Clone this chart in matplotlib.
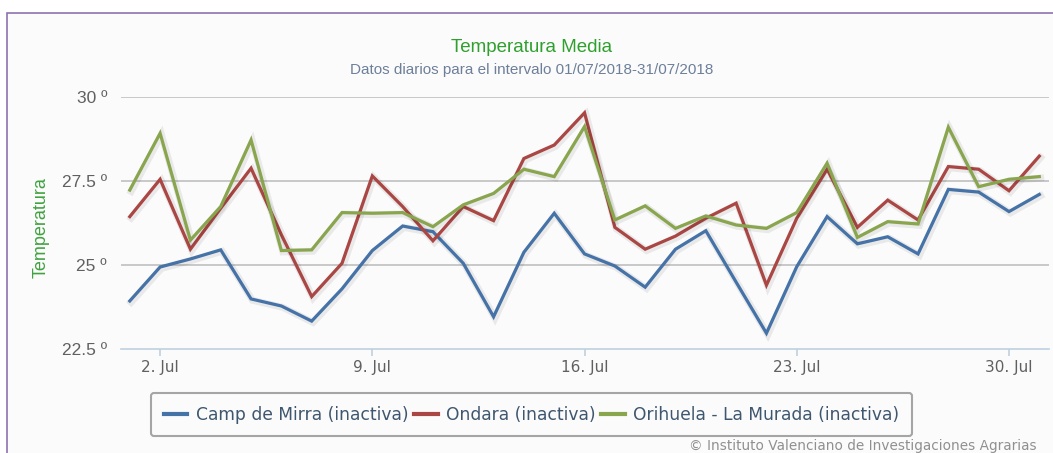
import matplotlib
matplotlib.use("Agg")
import matplotlib.pyplot as plt
import matplotlib.patheffects as pe
from matplotlib.patches import Rectangle

# daily mean temperature, July 2018
days = list(range(1, 32))
camp_de_mirra = [23.93, 24.94, 25.18, 25.45, 23.99, 23.78, 23.33, 24.29, 25.43, 26.16,
                 25.99, 25.05, 23.46, 25.38, 26.54, 25.33, 24.97, 24.34, 25.47, 26.02,
                 24.49, 22.97, 24.95, 26.44, 25.63, 25.84, 25.33, 27.25, 27.17, 26.59,
                 27.10]
ondara = [26.44, 27.55, 25.47, 26.69, 27.88, 25.90, 24.06, 25.05, 27.65, 26.74,
          25.72, 26.74, 26.32, 28.17, 28.57, 29.53, 26.12, 25.47, 25.86, 26.39,
          26.84, 24.40, 26.39, 27.85, 26.12, 26.93, 26.34, 27.93, 27.85, 27.21,
          28.24]
orihuela = [27.23, 28.92, 25.74, 26.74, 28.72, 25.43, 25.45, 26.56, 26.54, 26.56,
            26.14, 26.79, 27.13, 27.85, 27.63, 29.12, 26.34, 26.76, 26.09, 26.46,
            26.19, 26.09, 26.56, 28.03, 25.82, 26.29, 26.22, 29.10, 27.33, 27.55,
            27.63]

series_names = ["Camp de Mirra (inactiva)", "Ondara (inactiva)",
                "Orihuela - La Murada (inactiva)"]
series_colors = ["#4572A7", "#AA4643", "#89A54E"]

x_ticks = [2, 9, 16, 23, 30]
x_labels = ["2. Jul", "9. Jul", "16. Jul", "23. Jul", "30. Jul"]
y_ticks = [22.5, 25, 27.5, 30]
y_labels = ["22.5 º", "25 º", "27.5 º", "30 º"]

W, H = 1053, 453
fig = plt.figure(figsize=(W / 100, H / 100), dpi=100)
fig.patch.set_facecolor("white")

# outer chart frame (cut off at the right and bottom in the screenshot)
frame = Rectangle((6.5 / W, -0.1), 1.2, 1 - 13 / H + 0.1, transform=fig.transFigure,
                  facecolor="#fbfbfb", edgecolor="#8c72b0", linewidth=1.2, zorder=-5)
fig.patches.append(frame)

ax = fig.add_axes([121 / W, 1 - 349 / H, (1049 - 121) / W, (349 - 97) / H])
ax.set_facecolor("none")

shadow = [pe.SimpleLineShadow(offset=(1, -1), shadow_color="black", alpha=0.07, linewidth=5),
          pe.Normal()]
for vals, name, col in zip([camp_de_mirra, ondara, orihuela], series_names, series_colors):
    ax.plot(days, vals, color=col, lw=2.3, label=name, solid_joinstyle="miter",
            path_effects=shadow, zorder=3)

ax.set_xlim(0.71, 31.32)
ax.set_ylim(22.5, 30)

ax.set_yticks(y_ticks)
ax.set_yticklabels(y_labels, family="Liberation Sans", fontsize=12.5, color="#606060")
ax.tick_params(axis="y", length=0, pad=10)
for y in y_ticks[1:]:
    ax.axhline(y, color="#c0c0c0", lw=1.2, zorder=1)

ax.set_xticks(x_ticks)
ax.set_xticklabels(x_labels, family="DejaVu Sans", fontsize=11, color="#606060")
ax.tick_params(axis="x", length=5, width=1.2, color="#c0d0e0", pad=3)

for s in ["top", "right", "left"]:
    ax.spines[s].set_visible(False)
ax.spines["bottom"].set_color("#c0d0e0")
ax.spines["bottom"].set_linewidth(1.2)

ax.set_ylabel("Temperatura", family="Liberation Sans", fontsize=13, color="#3fa33f")
ax.yaxis.set_label_coords(-71 / (1049 - 121), 0.48)

fig.text(532 / W, 1 - 47 / H, "Temperatura Media", ha="center", va="center",
         family="Liberation Sans", fontsize=13.5, color="#2ea02e")
fig.text(532 / W, 1 - 70 / H, "Datos diarios para el intervalo 01/07/2018-31/07/2018",
         ha="center", va="center", family="Liberation Sans", fontsize=11, color="#6d7f99")

leg = ax.legend(loc="center", bbox_to_anchor=(531.5 / W, 1 - 414.5 / H),
                bbox_transform=fig.transFigure, ncol=3, frameon=True, fancybox=True,
                prop={"family": "DejaVu Sans", "size": 12.3}, handlelength=1.4,
                handletextpad=0.5, columnspacing=0.3, borderpad=0.75)
leg.get_frame().set_edgecolor("#909090")
leg.get_frame().set_linewidth(1.5)
leg.get_frame().set_facecolor("none")
for t in leg.get_texts():
    t.set_color("#3e576f")
for h in leg.get_lines():
    h.set_linewidth(3)
    h.set_path_effects([])

fig.text(1037 / W, 1 - 446 / H, "© Instituto Valenciano de Investigaciones Agrarias",
         ha="right", va="center", family="DejaVu Sans", fontsize=9.8, color="#909090")

fig.savefig("out.png", dpi=100)
